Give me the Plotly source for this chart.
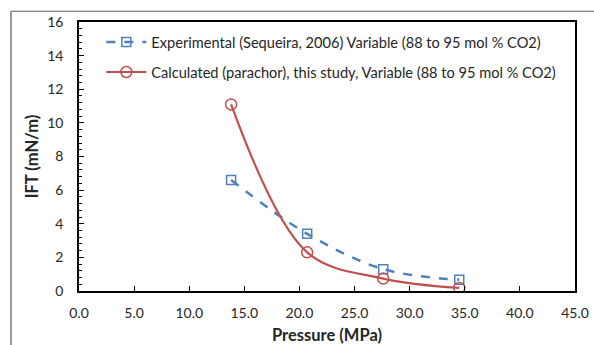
import plotly.graph_objects as go

pressure = [13.8, 20.7, 27.6, 34.5]
ift_exp = [6.6, 3.4, 1.3, 0.67]
ift_calc = [11.1, 2.3, 0.74, 0.18]

name_exp = "Experimental (Sequeira, 2006) Variable (88 to 95 mol % CO2)"
name_calc = "Calculated (parachor), this study, Variable (88 to 95 mol % CO2)"

x_ticks = [0, 5, 10, 15, 20, 25, 30, 35, 40, 45]
x_ticklabels = [f"{v:.1f}" for v in x_ticks]
y_ticks = [0, 2, 4, 6, 8, 10, 12, 14, 16]

FONT = "Lato"
fig = go.Figure()
fig.add_trace(go.Scatter(
    x=pressure, y=ift_exp, name=name_exp, mode="lines+markers",
    line=dict(color="#4F81BD", width=2.5, dash="dash", shape="spline", smoothing=1),
    marker=dict(symbol="square-open", size=9, color="#4F81BD", line=dict(width=1.5)),
    legendgroup="a",
))
fig.add_trace(go.Scatter(
    x=pressure, y=ift_calc, name=name_calc, mode="lines+markers",
    line=dict(color="#C0504D", width=2.2, shape="spline", smoothing=1),
    marker=dict(symbol="circle-open", size=11, color="#C0504D", line=dict(width=1.5)),
    legendgroup="b",
))

x_left = (11 - 79) / 496
y_top = (290.7 - 12) / 268
fig.update_layout(
    width=594, height=345,
    margin=dict(l=79, r=19, t=22, b=54),
    paper_bgcolor="white", plot_bgcolor="white",
    font=dict(family=FONT, size=14, color="#262626"),
    showlegend=True,
    legend=dict(x=0.045, y=0.985, xanchor="left", yanchor="top",
                bgcolor="rgba(0,0,0,0)", font=dict(size=14.6, family=FONT),
                traceorder="grouped", tracegroupgap=8, itemwidth=40),
    xaxis=dict(range=[0, 45], tickvals=x_ticks, ticktext=x_ticklabels,
               ticks="inside", ticklen=5, tickcolor="black", ticklabelstandoff=8,
               showline=True, linecolor="black", linewidth=1.5, mirror=True,
               showgrid=False, zeroline=False, automargin=False,
               title=dict(text="<b>Pressure (MPa)</b>", font=dict(size=16.5), standoff=13)),
    yaxis=dict(range=[0, 16], tickvals=y_ticks,
               ticks="inside", ticklen=5, tickcolor="black", ticklabelstandoff=11,
               minor=dict(dtick=0.4, ticks="inside", ticklen=3, tickcolor="black"),
               showline=True, linecolor="black", linewidth=1.5, mirror=True,
               showgrid=False, zeroline=False, automargin=False,
               title=dict(text="<b>IFT (mN/m)</b>", font=dict(size=16.5), standoff=4)),
    shapes=[
        dict(type="line", xref="paper", yref="paper",
             x0=x_left, x1=1.1, y0=y_top, y1=y_top,
             line=dict(color="#595959", width=1.2), layer="below"),
        dict(type="line", xref="paper", yref="paper",
             x0=x_left, x1=x_left, y0=-0.3, y1=y_top,
             line=dict(color="#595959", width=1.2), layer="below"),
    ],
)

fig.write_html("out.html", config={"displayModeBar": False},
               post_script="document.body.style.margin='0';document.body.style.overflow='hidden';")
